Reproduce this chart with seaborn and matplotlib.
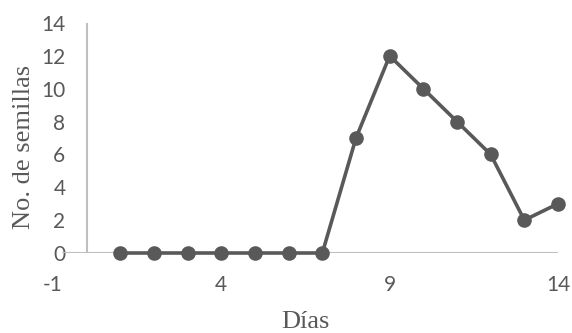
import matplotlib
matplotlib.use("Agg")
import matplotlib.pyplot as plt
import seaborn as sns
import pandas as pd

dias = [1, 2, 3, 4, 5, 6, 7, 8, 9, 10, 11, 12, 13, 14]
semillas = [0, 0, 0, 0, 0, 0, 0, 7, 12, 10, 8, 6, 2, 3]
x_ticks = [-1, 4, 9, 14]
y_ticks = [0, 2, 4, 6, 8, 10, 12, 14]

df = pd.DataFrame({"Días": dias, "No. de semillas": semillas})

sns.set_theme(style="white")
plt.rcParams["font.family"] = ["Lato", "DejaVu Sans"]
plt.rcParams["axes.unicode_minus"] = False

fig = plt.figure(figsize=(5.72, 3.33), dpi=100)
ax = fig.add_axes([53 / 572, 80 / 333, 505 / 572, 230 / 333])

gray = "#595959"
axis_gray = "#bfbfbf"

ax.axvline(0, color=axis_gray, lw=1.5, zorder=1)
ax.axhline(0, xmin=0.02, xmax=1.0, color=axis_gray, lw=1.5, zorder=1)

sns.lineplot(data=df, x="Días", y="No. de semillas", ax=ax, color=gray,
             marker="o", markersize=10.5, linewidth=2.6,
             markeredgecolor=gray, markeredgewidth=0, zorder=3, clip_on=False)

ax.set_xlim(-1, 14)
ax.set_ylim(0, 14)
ax.set_xticks(x_ticks)
ax.set_yticks(y_ticks)
for s in ax.spines.values():
    s.set_visible(False)

ax.tick_params(axis="x", length=0, pad=16, labelsize=15, labelcolor=gray)
ax.tick_params(axis="y", length=0, pad=-9, labelsize=15, labelcolor=gray)
for lbl in ax.get_yticklabels():
    lbl.set_zorder(5)

ax.set_xlabel("Días", family=["Liberation Serif"], fontsize=19, color=gray, labelpad=11)
ax.set_ylabel("No. de semillas", family=["Liberation Serif"], fontsize=19, color=gray)
ax.yaxis.set_label_coords(-0.036, 0.46)

fig.savefig("out.png", dpi=100)
